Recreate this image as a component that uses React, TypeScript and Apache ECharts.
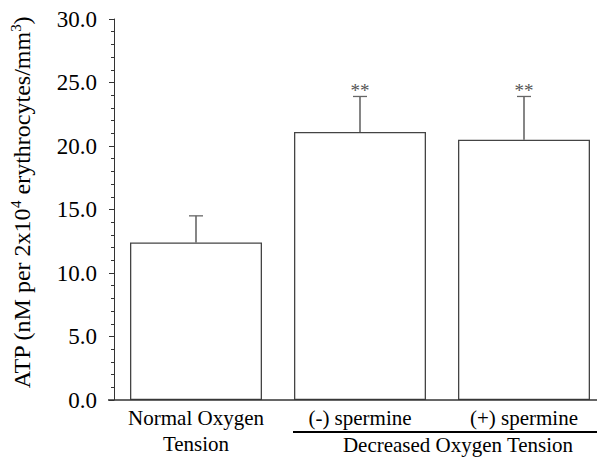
import React, { useEffect, useRef } from 'react';
import * as echarts from 'echarts';

const categories = ['Normal Oxygen\nTension', '(-) spermine', '(+) spermine'];
const means = [12.4, 21.1, 20.5];
const upperErrors = [14.5, 23.9, 23.9];
const significance = ['', '**', '**'];
const yMin = 0;
const yMax = 30;
const yInterval = 5;
const groupLabel = 'Decreased Oxygen Tension';
const yAxisName = 'ATP (nM per 2x10{sup|4} erythrocytes/mm{sup|3})';

const FONT = 'Liberation Serif';

export default function App() {
  const ref = useRef<HTMLDivElement>(null);
  useEffect(() => {
    if (!ref.current) return;
    const chart = echarts.init(ref.current, undefined, { renderer: 'svg' });
    const option: any = {
      animation: false,
      backgroundColor: '#ffffff',
      textStyle: { fontFamily: FONT },
      grid: { left: 108, right: -8, top: 19, bottom: 61, containLabel: false },
      xAxis: {
        type: 'category',
        data: categories,
        boundaryGap: true,
        axisLine: { show: false },
        axisTick: { show: false },
        axisLabel: {
          interval: 0,
          margin: 5,
          fontFamily: FONT,
          fontSize: 21,
          lineHeight: 26,
          color: '#000',
        },
      },
      yAxis: {
        type: 'value',
        min: yMin,
        max: yMax,
        interval: yInterval,
        name: yAxisName,
        nameLocation: 'middle',
        nameGap: 78,
        nameRotate: 90,
        nameTextStyle: {
          fontFamily: FONT,
          fontSize: 24,
          color: '#000',
          lineHeight: 28,
          padding: [0, 0, 0, 14],
          rich: {
            sup: { fontFamily: FONT, fontSize: 15, color: '#000', verticalAlign: 'top', lineHeight: 28 },
          },
        },
        axisLine: { show: true, lineStyle: { color: '#333', width: 1 } },
        axisTick: { show: true, length: 5, lineStyle: { color: '#333' } },
        minorTick: { show: true, splitNumber: 5, length: 3, lineStyle: { color: '#333' } },
        splitLine: { show: false },
        axisLabel: {
          margin: 17,
          fontFamily: FONT,
          fontSize: 23,
          color: '#000',
          formatter: (v: number) => v.toFixed(1),
        },
      },
      graphic: [
        {
          type: 'line',
          shape: { x1: 108, y1: 400, x2: 597, y2: 400 },
          style: { stroke: '#333', lineWidth: 1.5 },
          z: 10,
        },
        {
          type: 'line',
          shape: { x1: 293, y1: 432, x2: 597, y2: 432 },
          style: { stroke: '#000', lineWidth: 2 },
        },
        {
          type: 'text',
          x: 458,
          y: 445,
          style: {
            text: groupLabel,
            fontFamily: FONT,
            fontSize: 21,
            fill: '#000',
            textAlign: 'center',
            textVerticalAlign: 'middle',
          },
        },
      ],
      series: [
        {
          type: 'bar',
          data: means,
          barWidth: 132,
          itemStyle: { color: '#ffffff', borderColor: '#444', borderWidth: 1.3 },
          z: 2,
        },
        {
          type: 'custom',
          z: 3,
          data: means.map((m, i) => [i, m, upperErrors[i]]),
          renderItem: (params: any, api: any) => {
            const x = api.value(0);
            const p0 = api.coord([x, api.value(1)]);
            const p1 = api.coord([x, api.value(2)]);
            const cap = 7;
            const children: any[] = [
              {
                type: 'line',
                shape: { x1: p0[0], y1: p0[1], x2: p1[0], y2: p1[1] },
                style: { stroke: '#444', lineWidth: 1.3 },
              },
              {
                type: 'line',
                shape: { x1: p1[0] - cap, y1: p1[1], x2: p1[0] + cap, y2: p1[1] },
                style: { stroke: '#666', lineWidth: 1.3 },
              },
            ];
            const sig = significance[params.dataIndex];
            if (sig) {
              children.push({
                type: 'text',
                x: p1[0],
                y: p1[1] - 6,
                style: {
                  text: sig,
                  fontFamily: FONT,
                  fontSize: 19,
                  fill: '#555',
                  textAlign: 'center',
                  textVerticalAlign: 'middle',
                },
              });
            }
            return { type: 'group', children };
          },
        },
      ],
    };
    chart.setOption(option);
    return () => chart.dispose();
  }, []);
  return (
    <div
      ref={ref}
      style={{ position: 'fixed', left: 0, top: 0, width: 606, height: 461 }}
    />
  );
}
